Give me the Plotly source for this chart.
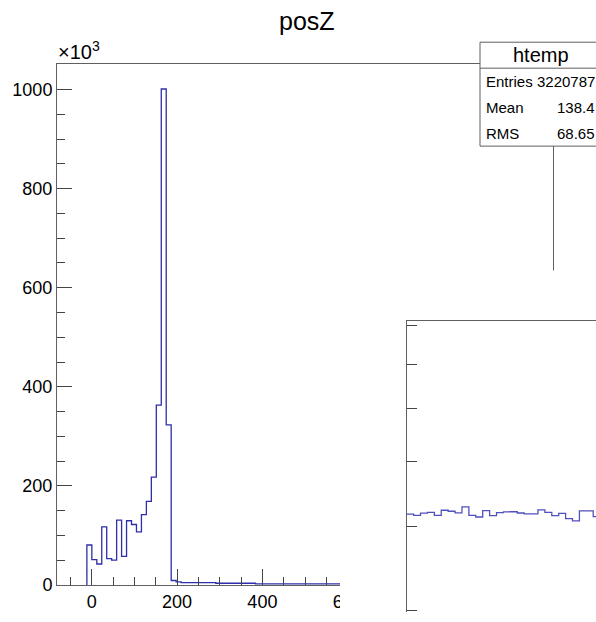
import plotly.graph_objects as go

# ---------------- data ----------------
# main histogram of posZ (bin contents in units of 10^3 entries), first non-empty bin onwards
bin_first = -11.28
bin_w = 11.62
counts_k = [80.6, 51, 42.3, 117, 53, 50.3, 131, 57.5, 129.6, 122,
            107, 142, 168.6, 217.6, 363, 1001, 323, 9.0, 6.0,
            4.8, 4.8, 4.8, 4.8, 4.8, 4.8, 4.8,
            3.4, 3.4, 3.4, 3.4, 3.4, 3.4, 3.4, 3.4,
            2.0, 2.0, 2.0, 2.0, 2.0, 2.0, 2.0, 2.0, 2.0, 2.0,
            2.0, 2.0, 2.0, 2.0, 2.0, 2.0, 2.0, 2.0, 2.0, 2.0]
x_ticks = [0, 200, 400, 600]
y_ticks = [0, 200, 400, 600, 800, 1000]

# zoomed pad (log scale) - bin contents
pad_counts = [4177, 4159, 4191, 4201, 4159, 4233, 4218, 4196, 4282, 4160,
              4136, 4227, 4156, 4198, 4208, 4211, 4193, 4179, 4179, 4237,
              4203, 4156, 4188, 4114, 4082, 4223, 4223, 4142]
pad_ticks = [3000, 4000, 5000, 6000, 7000, 8000]

stats_labels = ["Entries", "Mean", "RMS"]
stats_values = ["3220787", "138.4", "68.65"]

# ---------------- geometry helpers ----------------
W, H = 596, 622
def px(x):
    return x / W
def py(y):
    return 1 - y / H

edges = [bin_first + bin_w * i for i in range(len(counts_k) + 1)]
hx = [edges[0]] + edges
hy = [0] + counts_k + [counts_k[-1]]

pad_edges = list(range(len(pad_counts) + 1))
pad_y = pad_counts + [pad_counts[-1]]

LINE = "#606060"
TICK = "#444444"
HCOL = "#2e2eaa"
FONT = "Liberation Sans, Arial, Helvetica, sans-serif"

fig = go.Figure()
fig.add_trace(go.Scatter(x=hx, y=hy, mode="lines", line=dict(color=HCOL, width=1.3, shape="hv"),
                         xaxis="x", yaxis="y", showlegend=False, hoverinfo="skip"))
# white pad that overlaps the main frame
fig.add_trace(go.Scatter(x=[0, 1, 1, 0, 0], y=[0, 0, 1, 1, 0], mode="lines", fill="toself",
                         fillcolor="white", line=dict(width=0, color="white"),
                         xaxis="x2", yaxis="y2", showlegend=False, hoverinfo="skip"))
fig.add_trace(go.Scatter(x=pad_edges, y=pad_y, mode="lines", line=dict(color="#5050bd", width=1.3, shape="hv"),
                         xaxis="x3", yaxis="y3", showlegend=False, hoverinfo="skip"))

fig.update_layout(
    width=W, height=H, autosize=False,
    margin=dict(l=0, r=0, t=0, b=0),
    paper_bgcolor="white", plot_bgcolor="white",
    font=dict(family=FONT, color="black"),
    xaxis=dict(domain=[px(57), px(553)], range=[-81.3, 1081], anchor="y",
               showline=True, linecolor=LINE, linewidth=1, mirror=True,
               ticks="inside", ticklen=16, tickcolor=TICK, tickwidth=1,
               tickvals=x_ticks, ticktext=[str(v) for v in x_ticks],
               tickfont=dict(size=18, family=FONT, color="black"),
               minor=dict(dtick=50, tick0=0, ticks="inside", ticklen=8, tickcolor=TICK, showgrid=False),
               showgrid=False, zeroline=False),
    yaxis=dict(domain=[py(594.5), py(65)], range=[0, 1051.6], anchor="x",
               showline=True, linecolor=LINE, linewidth=1, mirror=True,
               ticks="inside", ticklen=15, tickcolor=TICK, tickwidth=1,
               tickvals=y_ticks, ticktext=[str(v) for v in y_ticks],
               tickfont=dict(size=18, family=FONT, color="black"),
               minor=dict(dtick=50, tick0=0, ticks="inside", ticklen=8, tickcolor=TICK, showgrid=False),
               showgrid=False, zeroline=False),
    xaxis2=dict(domain=[px(340), 1], range=[0, 1], anchor="y2", visible=False, fixedrange=True),
    yaxis2=dict(domain=[0, py(275)], range=[0, 1], anchor="x2", visible=False, fixedrange=True),
    xaxis3=dict(domain=[px(406.7), 1], range=[0, 27.4], anchor="y3", side="top",
                showline=True, linecolor=LINE, linewidth=1, ticks="", showticklabels=False,
                showgrid=False, zeroline=False),
    yaxis3=dict(domain=[0, py(326)], type="log", range=[3.47456, 3.90985], anchor="x3",
                showline=True, linecolor=LINE, linewidth=1,
                ticks="inside", ticklen=10, tickcolor=TICK, tickvals=pad_ticks,
                showticklabels=False, showgrid=False, zeroline=False),
)

shapes = [
    dict(type="rect", xref="paper", yref="paper", x0=px(480), x1=px(601.7), y0=py(148.5), y1=py(42.9),
         fillcolor="white", line=dict(color=LINE, width=1), layer="above"),
    dict(type="line", xref="paper", yref="paper", x0=px(480), x1=px(601.7), y0=py(69.3), y1=py(69.3),
         line=dict(color=LINE, width=1), layer="above"),
]
fig.update_layout(shapes=shapes)

ann = [
    dict(text="posZ", x=px(307), y=py(21), xref="paper", yref="paper", xanchor="center", yanchor="middle",
         showarrow=False, font=dict(size=25, family=FONT)),
    dict(text="×10<sup>3</sup>", x=px(56), y=py(66), xref="paper", yref="paper", xanchor="left", yanchor="bottom",
         showarrow=False, font=dict(size=20, family=FONT)),
    dict(text="htemp", x=px(540.9), y=py(56), xref="paper", yref="paper", xanchor="center", yanchor="middle",
         showarrow=False, font=dict(size=20, family=FONT)),
]
row_y = [82.5, 108.9, 135.3]
for lab, val, yy in zip(stats_labels, stats_values, row_y):
    ann.append(dict(text=lab, x=px(484), y=py(yy), xref="paper", yref="paper", xanchor="left", yanchor="middle",
                    showarrow=False, font=dict(size=15, family=FONT)))
    ann.append(dict(text=val, x=px(597), y=py(yy), xref="paper", yref="paper", xanchor="right", yanchor="middle",
                    showarrow=False, font=dict(size=15, family=FONT)))
fig.update_layout(annotations=ann)

page_js = (
    "document.documentElement.style.margin='0';document.body.style.margin='0';"
    "document.documentElement.style.overflow='hidden';document.body.style.overflow='hidden';"
)
fig.write_html("out.html", post_script=page_js)
